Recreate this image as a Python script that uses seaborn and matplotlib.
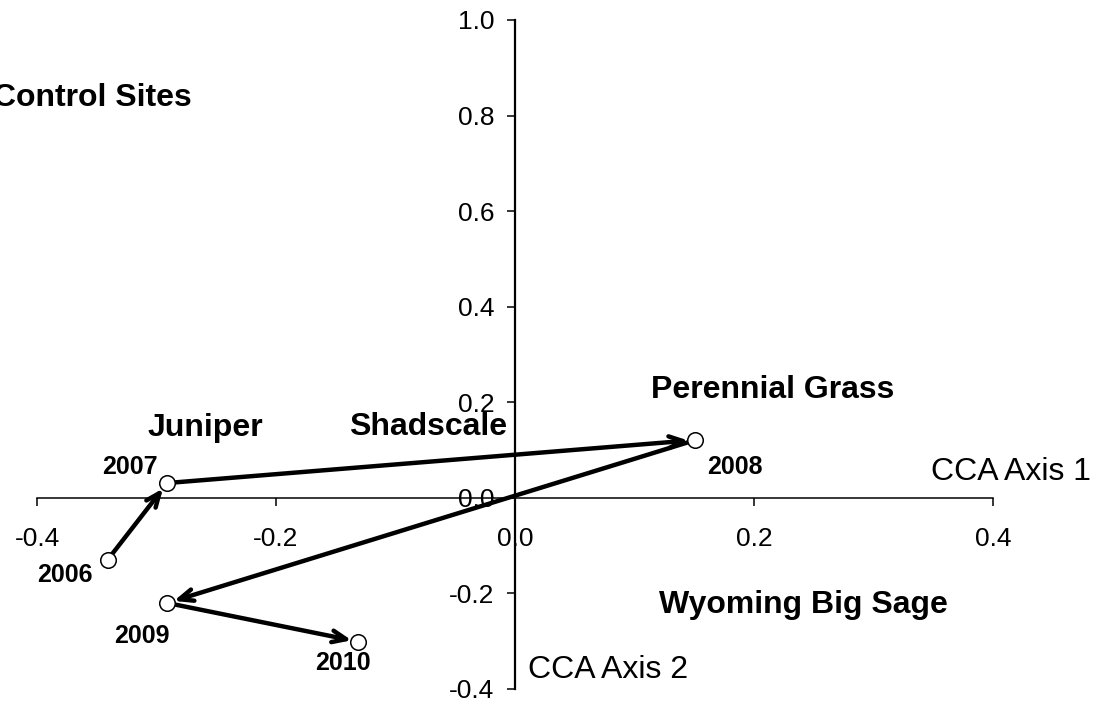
import matplotlib
matplotlib.use('Agg')
import matplotlib.pyplot as plt
import seaborn as sns
import pandas as pd

# ── data ──
years = ['2006', '2007', '2008', '2009', '2010']
cca1 = [-0.341, -0.291, 0.151, -0.291, -0.131]
cca2 = [-0.130, 0.031, 0.121, -0.220, -0.301]

groups = ['Juniper', 'Shadscale', 'Perennial Grass', 'Wyoming Big Sage']
group_x = [-0.259, -0.073, 0.216, 0.241]
group_y = [0.146, 0.149, 0.226, -0.224]

year_lab_x = [-0.377, -0.322, 0.184, -0.312, -0.144]
year_lab_y = [-0.161, 0.065, 0.065, -0.289, -0.345]

x_ticks = [-0.4, -0.2, 0.0, 0.2, 0.4]
y_ticks = [-0.4, -0.2, 0.0, 0.2, 0.4, 0.6, 0.8, 1.0]

df = pd.DataFrame({'year': years, 'x': cca1, 'y': cca2})

sns.set_style('white')
plt.rcParams['font.family'] = ['Liberation Sans', 'DejaVu Sans']
plt.rcParams['text.color'] = 'black'

fig = plt.figure(figsize=(10.99, 7.06), dpi=100)
ax = fig.add_axes([0.0337, 0.0241, 0.8698, 0.9476])

# arrows between consecutive years
for i in range(len(years) - 1):
    ax.annotate('', xy=(cca1[i + 1], cca2[i + 1]), xytext=(cca1[i], cca2[i]),
                arrowprops=dict(arrowstyle='->,head_length=1.0,head_width=0.42',
                                lw=3.2, color='black', shrinkA=5, shrinkB=5))

sns.scatterplot(data=df, x='x', y='y', ax=ax, s=125, marker='o',
                facecolor='white', edgecolor='black', linewidth=1.1, zorder=3)

for yr, lx, ly in zip(years, year_lab_x, year_lab_y):
    ax.text(lx, ly, yr, fontsize=18, fontweight='bold', ha='center', va='center',
            color='black')

for g, gx, gy in zip(groups, group_x, group_y):
    ax.text(gx, gy, g, fontsize=23, fontweight='bold', ha='center', va='center',
            color='black')

ax.text(-0.437, 0.837, 'Control Sites', fontsize=23, fontweight='bold',
        ha='left', va='center', clip_on=False, color='black')
ax.text(0.415, 0.055, 'CCA Axis 1', fontsize=23, ha='center', va='center',
        clip_on=False, color='black')
ax.text(0.011, -0.360, 'CCA Axis 2', fontsize=23, ha='left', va='center',
        color='black')

ax.set_xlim(-0.4, 0.4)
ax.set_ylim(-0.4, 1.0)
ax.spines['left'].set_position(('data', 0))
ax.spines['bottom'].set_position(('data', 0))
ax.spines['right'].set_visible(False)
ax.spines['top'].set_visible(False)
ax.spines['left'].set_color('black')
ax.spines['left'].set_linewidth(1.6)
ax.spines['bottom'].set_color('black')
ax.spines['bottom'].set_linewidth(1.1)
ax.set_xticks(x_ticks)
ax.set_yticks(y_ticks)
ax.set_xticklabels([f'{v:.1f}' for v in x_ticks])
ax.set_yticklabels([f'{v:.1f}' for v in y_ticks])
ax.tick_params(axis='both', direction='out', length=6, width=1.1, labelsize=19,
               colors='black', left=True, bottom=True)
ax.tick_params(axis='x', pad=15)
ax.tick_params(axis='y', pad=9)
ax.set_xlabel('')
ax.set_ylabel('')

fig.savefig('out.png', dpi=100)
